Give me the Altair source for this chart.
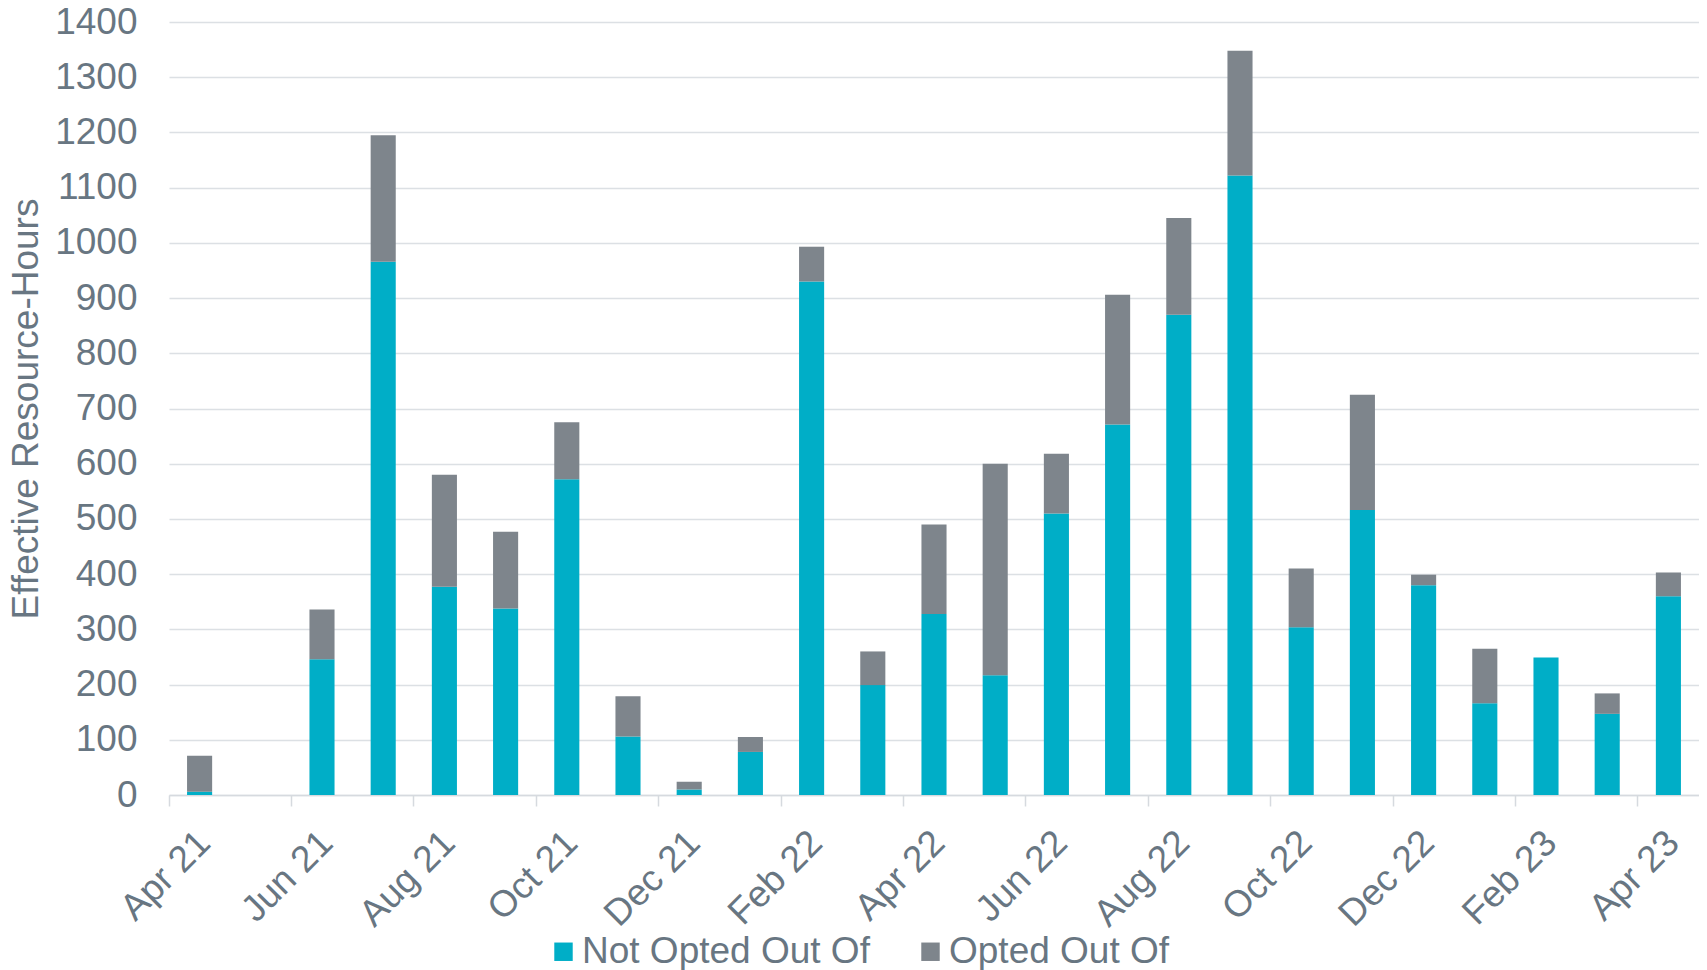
import altair as alt
import pandas as pd

months = ["Apr 21", "May 21", "Jun 21", "Jul 21", "Aug 21", "Sep 21", "Oct 21",
          "Nov 21", "Dec 21", "Jan 22", "Feb 22", "Mar 22", "Apr 22", "May 22",
          "Jun 22", "Jul 22", "Aug 22", "Sep 22", "Oct 22", "Nov 22", "Dec 22",
          "Jan 23", "Feb 23", "Mar 23", "Apr 23"]
not_opted = [6, 0, 246, 966, 377, 338, 572, 106, 10, 78, 930, 199, 328, 217,
             510, 671, 870, 1122, 304, 516, 380, 166, 249, 147, 360]
opted = [65, 0, 90, 229, 203, 139, 103, 73, 14, 27, 63, 61, 162, 383,
         108, 235, 175, 226, 106, 209, 19, 99, 0, 37, 43]
series = ["Not Opted Out Of", "Opted Out Of"]
colors = ["#00AEC7", "#7E858C"]
label_months = months[::2]
y_ticks = list(range(0, 1401, 100))

rows = []
for m, a, b in zip(months, not_opted, opted):
    rows.append({"month": m, "series": series[0], "value": a, "ord": 0})
    rows.append({"month": m, "series": series[1], "value": b, "ord": 1})
df = pd.DataFrame(rows)

FONT = "Liberation Sans"
TXT = "#687682"
FS = 37

chart = alt.Chart(df).mark_bar().encode(
    x=alt.X("month:N", sort=months,
            scale=alt.Scale(paddingInner=0.59, paddingOuter=0.295),
            axis=alt.Axis(title=None, values=label_months, labelAngle=-45,
                          labelAlign="right", labelBaseline="middle",
                          labelFontSize=FS, labelFont=FONT, labelColor=TXT,
                          labelPadding=31, labelOffset=5, ticks=True, tickSize=11,
                          tickColor="#D6DADF", tickWidth=1.5,
                          bandPosition=-0.7195, labelLimit=0,
                          domainColor="#D6DADF", domainWidth=1.5,
                          grid=False)),
    y=alt.Y("value:Q", stack="zero",
            scale=alt.Scale(domain=[0, 1400], nice=False),
            axis=alt.Axis(title="Effective Resource-Hours", values=y_ticks,
                          format="d",
                          labelFontSize=FS, labelFont=FONT, labelColor=TXT,
                          labelPadding=32, ticks=False, tickSize=0, domain=False,
                          grid=True, gridColor="#DCE0E4", gridWidth=1.5,
                          titleFontSize=FS, titleFont=FONT, titleColor=TXT,
                          titleFontWeight="normal", titlePadding=9)),
    color=alt.Color("series:N", scale=alt.Scale(domain=series, range=colors),
                    legend=alt.Legend(title=None, orient="none", direction="horizontal",
                                      legendX=376, legendY=911,
                                      symbolType="square", symbolSize=340,
                                      symbolStrokeWidth=0, labelLimit=0,
                                      labelFontSize=FS, labelFont=FONT,
                                      labelColor=TXT, labelOffset=0,
                                      columnPadding=42)),
    order=alt.Order("ord:Q", sort="ascending"),
).properties(
    width=1530, height=773,
    autosize=alt.AutoSizeParams(type="none"),
    padding={"left": 161, "top": 14, "right": 0, "bottom": 185},
).configure_view(stroke=None)

chart.save("out.html", embed_options={"renderer": "svg", "actions": False})
